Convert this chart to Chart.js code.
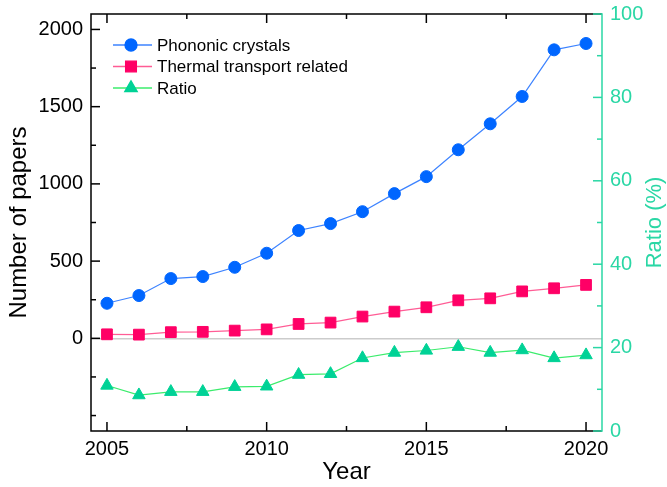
<!DOCTYPE html>
<html><head><meta charset="utf-8">
<script src="https://cdn.jsdelivr.net/npm/chart.js@4.4.1/dist/chart.umd.min.js"></script>
<style>html,body{margin:0;padding:0;background:#fff;}</style>
</head><body>
<canvas id="c" width="667" height="487" style="width:667px;height:487px;display:block"></canvas>
<script>
// ---- data ----
const years = [2005,2006,2007,2008,2009,2010,2011,2012,2013,2014,2015,2016,2017,2018,2019,2020];
const phononic = [227,277,387,400,460,551,698,743,820,937,1047,1221,1389,1566,1868,1909];
const thermal = [26,24,40,42,50,58,93,102,141,173,201,246,259,304,324,346];
const ratio = [10.9,8.6,9.4,9.4,10.6,10.7,13.5,13.7,17.5,18.8,19.3,20.2,18.8,19.4,17.5,18.2];
const seriesNames = ['Phononic crystals','Thermal transport related','Ratio'];
const xTicks = [2005,2010,2015,2020];
const xMinor = [2007.5,2012.5,2017.5];
const leftTicks = [0,500,1000,1500,2000];
const leftMinor = [-500,-250,250,750,1250,1750];
const rightTicks = [0,20,40,60,80,100];
const rightMinor = [10,30,50,70,90];

const FONT = "'Liberation Sans', Arial, sans-serif";
const GREEN_AX = '#2ad7a5';
const C = {
  blueP:'#0066ff', blueL:'#3d83ff',
  pinkP:'#ff0066', pinkL:'#ff5c95',
  greenP:'#00d296', greenL:'#3bec6c'
};

function line(ctx,x1,y1,x2,y2){ctx.beginPath();ctx.moveTo(x1,y1);ctx.lineTo(x2,y2);ctx.stroke();}

const framePlugin = {
  id:'frame',
  afterDatasetsDraw(chart){
    const {ctx, chartArea:a, scales} = chart;
    const x=scales.x, y=scales.y, y1=scales.y1;
    ctx.save();
    ctx.lineWidth=1.5; ctx.lineCap='butt';
    ctx.strokeStyle='#000';
    leftTicks.forEach(v=>{const p=y.getPixelForValue(v); line(ctx,a.left,p,a.left+9,p);});
    leftMinor.forEach(v=>{const p=y.getPixelForValue(v); line(ctx,a.left,p,a.left+5,p);});
    xTicks.forEach(v=>{const p=x.getPixelForValue(v); line(ctx,p,a.bottom,p,a.bottom-9); line(ctx,p,a.top,p,a.top+9);});
    xMinor.forEach(v=>{const p=x.getPixelForValue(v); line(ctx,p,a.bottom,p,a.bottom-5); line(ctx,p,a.top,p,a.top+5);});
    ctx.beginPath(); ctx.moveTo(a.right,a.top); ctx.lineTo(a.left,a.top); ctx.lineTo(a.left,a.bottom); ctx.lineTo(a.right,a.bottom); ctx.stroke();
    ctx.strokeStyle=GREEN_AX;
    rightTicks.forEach(v=>{const p=y1.getPixelForValue(v); line(ctx,a.right,p,a.right-9,p);});
    rightMinor.forEach(v=>{const p=y1.getPixelForValue(v); line(ctx,a.right,p,a.right-5,p);});
    line(ctx,a.right,a.top-0.75,a.right,a.bottom+0.75);
    // right title (reads bottom to top)
    ctx.save();
    ctx.fillStyle=GREEN_AX; ctx.font='22px '+FONT; ctx.textAlign='center'; ctx.textBaseline='middle';
    ctx.translate(655,(a.top+a.bottom)/2); ctx.rotate(-Math.PI/2);
    ctx.fillText('Ratio (%)',0,0);
    ctx.restore();
    // legend
    const items=[
      {name:seriesNames[0], lc:C.blueL, pc:C.blueP, ps:'circle', r:6},
      {name:seriesNames[1], lc:C.pinkL, pc:C.pinkP, ps:'rect', r:7.6},
      {name:seriesNames[2], lc:C.greenL, pc:C.greenP, ps:'triangle', r:7.2}
    ];
    const rows=[31,52.5,74];
    items.forEach((it,i)=>{
      const yy=a.top+rows[i];
      ctx.strokeStyle=it.lc; ctx.lineWidth=1.3;
      line(ctx,a.left+22,yy,a.left+61,yy);
      ctx.fillStyle=it.pc; ctx.strokeStyle=it.pc;
      Chart.helpers.drawPoint(ctx,{pointStyle:it.ps,radius:it.r,rotation:0,borderWidth:1},a.left+40,yy);
      ctx.fillStyle='#000'; ctx.font='17px '+FONT; ctx.textAlign='left'; ctx.textBaseline='middle';
      ctx.fillText(it.name,a.left+66,yy+1);
    });
    ctx.restore();
  }
};

const ds = (label,data,lc,pc,ps,r,axis)=>({
  label,data:years.map((yv,i)=>({x:yv,y:data[i]})),yAxisID:axis,
  borderColor:lc,borderWidth:1.2,backgroundColor:pc,
  pointStyle:ps,pointRadius:r,pointBackgroundColor:pc,pointBorderColor:pc,pointBorderWidth:1,
  tension:0,fill:false
});

const vFit = w => s => { s.width = w; s.paddingTop = 0; s.paddingBottom = 0; };

new Chart(document.getElementById('c'),{
  type:'line',
  data:{datasets:[
    ds(seriesNames[0],phononic,C.blueL,C.blueP,'circle',6,'y'),
    ds(seriesNames[1],thermal,C.pinkL,C.pinkP,'rect',7.6,'y'),
    ds(seriesNames[2],ratio,C.greenL,C.greenP,'triangle',7.2,'y1')
  ]},
  options:{
    responsive:false, animation:false, devicePixelRatio:1,
    layout:{padding:{top:14,left:0,right:0,bottom:0}},
    plugins:{legend:{display:false},tooltip:{enabled:false}},
    scales:{
      x:{type:'linear',position:'bottom',min:2004.5,max:2020.5,
        afterBuildTicks:s=>{s.ticks=xTicks.map(v=>({value:v}));},
        afterFit:s=>{s.height=56; s.paddingLeft=0; s.paddingRight=0;},
        grid:{display:false,drawTicks:false},border:{display:false},
        ticks:{color:'#000',font:{family:FONT,size:20},padding:6,callback:v=>String(v),maxRotation:0,autoSkip:false},
        title:{display:true,text:'Year',color:'#000',font:{family:FONT,size:24},padding:{top:0,bottom:0}}
      },
      y:{type:'linear',position:'left',min:-600,max:2100,
        afterBuildTicks:s=>{s.ticks=leftTicks.map(v=>({value:v}));},
        afterFit:vFit(91),
        grid:{display:true,drawTicks:false,drawOnChartArea:true,lineWidth:1.5,
          color:c=>(c.tick && c.tick.value===0)?'#cccccc':'rgba(0,0,0,0)'},
        border:{display:false},
        ticks:{color:'#000',font:{family:FONT,size:20},padding:8,callback:v=>String(v)},
        title:{display:true,text:'Number of papers',color:'#000',font:{family:FONT,size:24},padding:{top:5,bottom:0}}
      },
      y1:{type:'linear',position:'right',min:0,max:100,
        afterBuildTicks:s=>{s.ticks=rightTicks.map(v=>({value:v}));},
        afterFit:vFit(65),
        grid:{display:false,drawTicks:false},border:{display:false},
        ticks:{color:GREEN_AX,font:{family:FONT,size:20},padding:8,callback:v=>String(v)}
      }
    }
  },
  plugins:[framePlugin]
});
</script>
</body></html>
